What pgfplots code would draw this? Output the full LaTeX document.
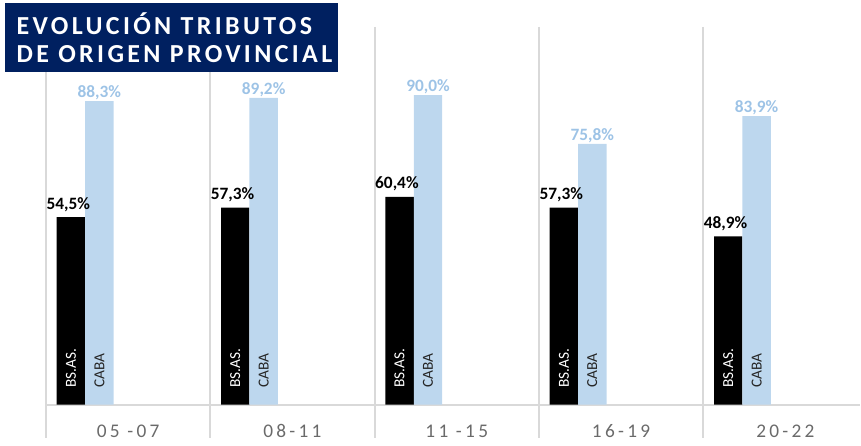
\documentclass[border=0pt]{standalone}
\usepackage{pgfplots}
\pgfplotsset{compat=1.18}
\usepackage{fontspec}
\setmainfont{Carlito}
\newfontfamily\titlefont[LetterSpace=13]{Carlito}
\newfontfamily\catfont[LetterSpace=17]{Carlito}
\definecolor{navy}{HTML}{002060}
\definecolor{lblue}{HTML}{BDD7EE}
\definecolor{lbluetxt}{HTML}{9DC3E6}
\definecolor{gridc}{HTML}{D9D9D9}
\definecolor{catc}{HTML}{6A6A6A}
\begin{document}
\begin{tikzpicture}
\begin{axis}[
  scale only axis,
  width=645.75pt, height=334.5pt,
  xmin=-0.2796, xmax=4.954,
  ymin=-11.92, ymax=117.7,
  axis lines=none,
  xtick=\empty, ytick=\empty,
  clip=false,
  /pgf/number format/assume math mode=true,
]
\path (axis cs:-0.2796,-11.92) rectangle (axis cs:4.954,117.7);
% grid lines
\foreach \i in {0,1,2,3,4}{
  \edef\tmp{\noexpand\draw[gridc, line width=1.5pt] (axis cs:\i,109.9) -- (axis cs:\i,-9.6);}
  \tmp
}
\draw[gridc, line width=1.5pt] (axis cs:0,0) -- (axis cs:4.954,0);

% bars
\addplot[ybar, bar width=0.173, bar shift=0pt, fill=black, draw=none,
  nodes near coords={\pgfmathprintnumber[fixed,fixed zerofill,precision=1,use comma]{\pgfplotspointmeta}\%},
  nodes near coords style={font=\fontsize{13pt}{15pt}\selectfont\bfseries, text=black, anchor=south, inner sep=4pt, xshift=-2pt}]
  coordinates {(0.152,54.5) (1.152,57.3) (2.152,60.4) (3.152,57.3) (4.152,48.9)};
\addplot[ybar, bar width=0.173, bar shift=0pt, fill=lblue, draw=none,
  nodes near coords={\pgfmathprintnumber[fixed,fixed zerofill,precision=1,use comma]{\pgfplotspointmeta}\%},
  nodes near coords style={font=\fontsize{13pt}{15pt}\selectfont\bfseries, text=lbluetxt, anchor=south, inner sep=0.5pt}]
  coordinates {(0.325,88.3) (1.325,89.2) (2.325,90.0) (3.325,75.8) (4.325,83.9)};

% labels inside bars
\foreach \i in {0,1,2,3,4}{
  \edef\tmp{\noexpand\node[rotate=90, anchor=west, inner sep=0pt, text=white, font=\noexpand\fontsize{11.5pt}{13pt}\noexpand\selectfont] at (axis cs:\i.152,4.9) {BS.AS.};
  \noexpand\node[rotate=90, anchor=west, inner sep=0pt, text=black!85, font=\noexpand\fontsize{11.5pt}{13pt}\noexpand\selectfont] at (axis cs:\i.325,4.9) {CABA};}
  \tmp
}

% category labels
\node[font=\catfont\fontsize{14.5pt}{16pt}\selectfont, text=catc] at (axis cs:0.5,-7.8) {05 -07};
\node[font=\catfont\fontsize{14.5pt}{16pt}\selectfont, text=catc] at (axis cs:1.5,-7.8) {08-11};
\node[font=\catfont\fontsize{14.5pt}{16pt}\selectfont, text=catc] at (axis cs:2.5,-7.8) {11 -15};
\node[font=\catfont\fontsize{14.5pt}{16pt}\selectfont, text=catc] at (axis cs:3.5,-7.8) {16-19};
\node[font=\catfont\fontsize{14.5pt}{16pt}\selectfont, text=catc] at (axis cs:4.5,-7.8) {20-22};

% title box
\fill[navy] (axis cs:-0.25,116.86) rectangle (axis cs:1.775,96.8);
\node[anchor=base west, inner sep=0pt, text=white, font=\titlefont\fontsize{19.5pt}{21pt}\selectfont\bfseries] at (axis cs:-0.18,107.56) {EVOLUCIÓN TRIBUTOS};
\node[anchor=base west, inner sep=0pt, text=white, font=\titlefont\fontsize{19.5pt}{21pt}\selectfont\bfseries] at (axis cs:-0.18,99.4) {DE ORIGEN PROVINCIAL};
\end{axis}
\end{tikzpicture}
\end{document}
